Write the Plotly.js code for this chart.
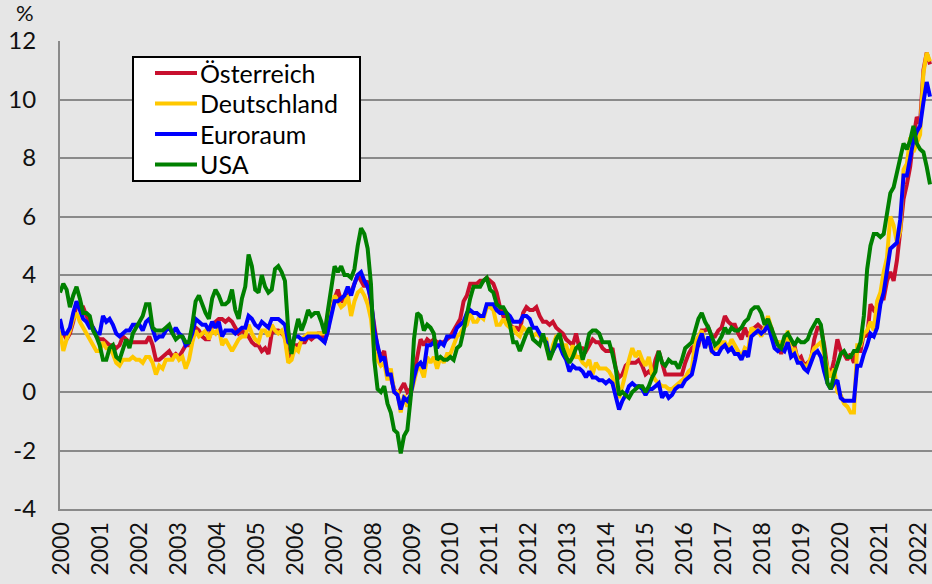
<!DOCTYPE html>
<html>
<head>
<meta charset="utf-8">
<script src="https://cdn.plot.ly/plotly-3.0.1.min.js"></script>
<style>
html,body{margin:0;padding:0;background:#e6e6e6;}
#chart{width:932px;height:584px;}
</style>
</head>
<body>
<div id="chart"></div>
<script>
// Monthly year-on-year inflation rates in %, first value = Dec 2000, last = Nov 2022
const SERIES_NAMES = ['Österreich', 'Deutschland', 'Euroraum', 'USA'];
const YEAR_LABELS = ['2000','2001','2002','2003','2004','2005','2006','2007','2008','2009','2010',
  '2011','2012','2013','2014','2015','2016','2017','2018','2019','2020','2021','2022'];
const Y_TICK_VALUES = [-4, -2, 0, 2, 4, 6, 8, 10, 12];
const Y_TICK_TEXT = ['-4', '-2', '0', '2', '4', '6', '8', '10', '12'];

const OESTERREICH = [
  2.0,
  2.0, 1.8, 2.0, 2.4, 3.0, 2.9, 2.9, 2.6, 2.4, 2.2, 1.9, 1.8,
  1.8, 1.7, 1.6, 1.6, 1.5, 1.6, 1.9, 1.8, 1.7, 1.7, 1.7, 1.7,
  1.7, 1.7, 1.9, 1.6, 1.1, 1.1, 1.2, 1.3, 1.4, 1.2, 1.3, 1.2,
  1.4, 1.6, 1.6, 1.9, 2.2, 2.1, 1.9, 1.8, 1.8, 2.3, 2.4, 2.5,
  2.5, 2.4, 2.5, 2.4, 2.2, 2.0, 2.1, 2.0, 1.9, 1.7, 1.6, 1.6,
  1.4, 1.5, 1.3, 2.0, 2.1, 2.1, 2.0, 1.9, 1.2, 1.3, 1.6, 1.6,
  1.7, 1.7, 1.9, 1.8, 1.9, 2.0, 2.0, 1.7, 2.1, 3.0, 3.2, 3.5,
  3.1, 3.1, 3.5, 3.4, 3.7, 4.0, 3.8, 3.6, 3.8, 3.0, 2.3, 1.5,
  1.2, 1.4, 0.6, 0.5, 0.1, -0.1, 0.1, 0.3, 0.0, 0.1, 0.6, 1.3,
  1.8, 1.6, 1.8, 1.7, 1.8, 1.7, 1.7, 1.7, 1.8, 1.9, 2.1, 2.3,
  2.5, 3.1, 3.3, 3.7, 3.7, 3.7, 3.8, 3.8, 3.9, 3.8, 3.7, 3.4,
  2.9, 2.6, 2.6, 2.3, 2.2, 2.2, 2.1, 2.7, 2.9, 2.8, 2.8, 2.9,
  2.6, 2.4, 2.4, 2.3, 2.4, 2.2, 2.1, 2.0, 1.8, 1.7, 1.6, 2.0,
  1.5, 1.5, 1.4, 1.6, 1.8, 1.7, 1.7, 1.5, 1.4, 1.4, 1.5, 0.8,
  0.5, 0.6, 0.9, 1.0, 1.0, 1.0, 1.1, 0.9, 0.6, 0.7, 0.6, 1.1,
  1.4, 1.0, 0.6, 0.6, 0.6, 0.6, 0.6, 0.6, 1.0, 1.3, 1.5, 1.6,
  1.6, 2.1, 2.1, 2.2, 1.9, 1.9, 2.1, 2.2, 2.6, 2.4, 2.3, 2.3,
  2.0, 1.8, 2.2, 1.9, 2.1, 2.2, 2.3, 2.2, 2.1, 2.3, 2.2, 1.7,
  1.7, 1.3, 1.7, 1.7, 1.7, 1.6, 1.1, 1.2, 0.9, 1.0, 1.1, 1.8,
  2.2, 2.2, 1.6, 0.8, 0.6, 1.1, 1.8, 1.4, 1.3, 1.1, 1.3, 1.0,
  1.4, 1.4, 2.0, 1.9, 3.0, 2.8, 2.9, 3.2, 3.2, 3.8, 4.1, 3.8,
  4.5, 5.5, 6.6, 7.1, 7.7, 8.7, 9.4, 9.2, 11.0, 11.6, 11.2
];

const DEUTSCHLAND = [
  2.1,
  1.4, 1.8, 2.1, 2.5, 2.7, 2.4, 2.2, 2.0, 1.8, 1.6, 1.4, 1.4,
  1.7, 1.5, 1.5, 1.3, 1.0, 0.9, 1.1, 1.1, 1.1, 1.2, 1.1, 1.1,
  1.0, 1.2, 1.2, 1.0, 0.6, 0.9, 0.8, 1.1, 1.1, 1.1, 1.3, 1.1,
  1.2, 0.8, 1.1, 1.7, 2.1, 1.9, 2.0, 2.1, 1.8, 2.1, 2.0, 2.2,
  1.6, 1.8, 1.6, 1.4, 1.6, 1.8, 1.9, 1.9, 2.3, 2.0, 1.8, 1.7,
  2.1, 2.1, 1.9, 2.3, 2.1, 2.0, 2.1, 1.8, 1.0, 1.1, 1.5, 1.4,
  1.8, 1.9, 2.0, 2.0, 2.0, 2.0, 2.0, 2.0, 2.7, 2.7, 3.3, 3.1,
  2.9, 3.0, 3.3, 2.6, 3.1, 3.4, 3.5, 3.3, 3.0, 2.5, 1.4, 1.1,
  0.9, 1.0, 0.4, 0.8, 0.0, 0.0, -0.7, -0.1, -0.5, -0.1, 0.3, 0.8,
  0.8, 0.5, 1.2, 1.0, 1.2, 0.8, 1.2, 1.0, 1.3, 1.3, 1.6, 1.9,
  2.0, 2.2, 2.3, 2.7, 2.4, 2.4, 2.6, 2.5, 2.9, 2.9, 2.8, 2.3,
  2.3, 2.5, 2.3, 2.2, 2.2, 2.0, 1.9, 2.2, 2.1, 2.1, 1.9, 2.0,
  1.9, 1.8, 1.8, 1.1, 1.6, 1.9, 1.9, 1.6, 1.6, 1.2, 1.6, 1.2,
  1.2, 1.0, 0.9, 1.1, 0.6, 1.0, 0.8, 0.8, 0.8, 0.7, 0.5, 0.1,
  -0.2, 0.2, 0.7, 1.1, 1.5, 1.2, 1.4, 1.1, 0.9, 1.2, 0.6, 0.4,
  0.3, 0.2, 0.2, 0.1, 0.1, 0.2, 0.3, 0.4, 0.5, 0.7, 0.8, 1.7,
  1.9, 2.1, 1.6, 1.8, 1.4, 1.5, 1.5, 1.7, 1.7, 1.5, 1.8, 1.6,
  1.4, 1.2, 1.5, 1.4, 2.2, 2.1, 2.1, 1.9, 2.2, 2.6, 2.2, 1.7,
  1.7, 1.7, 1.4, 2.1, 1.3, 1.5, 1.1, 1.0, 0.9, 0.9, 1.2, 1.5,
  1.6, 1.7, 1.3, 0.8, 0.5, 0.8, 0.0, -0.1, -0.4, -0.5, -0.7, -0.7,
  1.6, 1.6, 2.0, 2.1, 2.4, 2.1, 3.1, 3.4, 4.1, 4.6, 6.0, 5.7,
  5.1, 5.5, 7.6, 7.8, 8.7, 8.2, 8.5, 8.8, 10.9, 11.6, 11.3
];

const EURORAUM = [
  2.5,
  2.0, 2.0, 2.2, 2.7, 3.1, 2.8, 2.5, 2.4, 2.2, 2.2, 2.0, 2.0,
  2.6, 2.4, 2.5, 2.3, 2.0, 1.9, 2.0, 2.1, 2.1, 2.3, 2.3, 2.3,
  2.1, 2.4, 2.5, 2.1, 1.8, 1.9, 1.9, 2.1, 2.2, 2.0, 2.2, 2.0,
  1.9, 1.6, 1.7, 2.0, 2.5, 2.4, 2.3, 2.3, 2.1, 2.4, 2.2, 2.4,
  1.9, 2.1, 2.1, 2.1, 2.0, 2.1, 2.2, 2.2, 2.6, 2.5, 2.3, 2.2,
  2.4, 2.3, 2.2, 2.5, 2.5, 2.5, 2.4, 2.3, 1.7, 1.6, 1.9, 1.9,
  1.8, 1.8, 1.9, 1.9, 1.9, 1.9, 1.8, 1.7, 2.1, 2.6, 3.1, 3.1,
  3.2, 3.3, 3.6, 3.3, 3.7, 4.0, 4.1, 3.8, 3.6, 3.2, 2.1, 1.6,
  1.1, 1.2, 0.6, 0.6, 0.0, -0.1, -0.6, -0.2, -0.3, -0.1, 0.5, 0.9,
  1.0, 0.8, 1.6, 1.6, 1.7, 1.5, 1.7, 1.6, 1.9, 1.9, 1.9, 2.2,
  2.3, 2.4, 2.7, 2.8, 2.7, 2.7, 2.6, 2.6, 3.0, 3.0, 3.0, 2.8,
  2.7, 2.7, 2.7, 2.6, 2.4, 2.4, 2.4, 2.6, 2.6, 2.5, 2.2, 2.2,
  2.0, 1.8, 1.7, 1.2, 1.4, 1.6, 1.6, 1.3, 1.1, 0.7, 0.9, 0.8,
  0.8, 0.7, 0.5, 0.7, 0.5, 0.5, 0.4, 0.4, 0.3, 0.4, 0.3, -0.2,
  -0.6, -0.3, -0.1, 0.2, 0.3, 0.2, 0.2, 0.1, -0.1, 0.1, 0.1, 0.2,
  0.3, -0.2, 0.0, -0.2, -0.1, 0.1, 0.2, 0.2, 0.4, 0.5, 0.6, 1.1,
  1.7, 2.0, 1.5, 1.9, 1.4, 1.3, 1.3, 1.5, 1.6, 1.4, 1.5, 1.3,
  1.3, 1.1, 1.4, 1.2, 1.9, 2.0, 2.1, 2.0, 2.1, 2.3, 1.9, 1.5,
  1.4, 1.5, 1.4, 1.7, 1.2, 1.3, 1.0, 1.0, 0.8, 0.7, 1.0, 1.3,
  1.4, 1.2, 0.7, 0.3, 0.1, 0.3, 0.4, -0.2, -0.3, -0.3, -0.3, -0.3,
  0.9, 0.9, 1.3, 1.6, 2.0, 1.9, 2.2, 3.0, 3.4, 4.1, 4.9, 5.0,
  5.1, 5.9, 7.4, 7.4, 8.1, 8.6, 8.9, 9.1, 9.9, 10.6, 10.1
];

const USA = [
  3.4,
  3.7, 3.5, 2.9, 3.3, 3.6, 3.2, 2.7, 2.7, 2.6, 2.1, 1.9, 1.6,
  1.1, 1.1, 1.5, 1.6, 1.2, 1.1, 1.5, 1.8, 1.5, 2.0, 2.2, 2.4,
  2.6, 3.0, 3.0, 2.2, 2.1, 2.1, 2.1, 2.2, 2.3, 2.0, 1.8, 1.9,
  1.9, 1.7, 1.7, 2.3, 3.1, 3.3, 3.0, 2.7, 2.5, 3.2, 3.5, 3.3,
  3.0, 3.0, 3.1, 3.5, 2.8, 2.5, 3.2, 3.6, 4.7, 4.3, 3.5, 3.4,
  4.0, 3.6, 3.4, 3.5, 4.2, 4.3, 4.1, 3.8, 2.1, 1.3, 2.0, 2.5,
  2.1, 2.4, 2.8, 2.6, 2.7, 2.7, 2.4, 2.0, 2.8, 3.5, 4.3, 4.1,
  4.3, 4.0, 4.0, 3.9, 4.2, 5.0, 5.6, 5.4, 4.9, 3.7, 1.1, 0.1,
  0.0, 0.2, -0.4, -0.7, -1.3, -1.4, -2.1, -1.5, -1.3, -0.2, 1.8, 2.7,
  2.6, 2.1, 2.3, 2.2, 2.0, 1.1, 1.2, 1.1, 1.1, 1.2, 1.1, 1.5,
  1.6, 2.1, 2.7, 3.2, 3.6, 3.6, 3.6, 3.8, 3.9, 3.5, 3.4, 3.0,
  2.9, 2.9, 2.7, 2.3, 1.7, 1.7, 1.4, 1.7, 2.0, 2.2, 1.8, 1.7,
  1.6, 2.0, 1.5, 1.1, 1.4, 1.8, 2.0, 1.5, 1.2, 1.0, 1.2, 1.5,
  1.6, 1.1, 1.5, 2.0, 2.1, 2.1, 2.0, 1.7, 1.7, 1.7, 1.3, 0.8,
  -0.1, 0.0, -0.1, -0.2, 0.0, 0.1, 0.2, 0.2, 0.0, 0.2, 0.5, 0.7,
  1.4, 1.0, 0.9, 1.1, 1.0, 1.0, 0.8, 1.1, 1.5, 1.6, 1.7, 2.1,
  2.5, 2.7, 2.4, 2.2, 1.9, 1.6, 1.7, 1.9, 2.2, 2.0, 2.2, 2.1,
  2.1, 2.2, 2.4, 2.5, 2.8, 2.9, 2.9, 2.7, 2.3, 2.5, 2.2, 1.9,
  1.6, 1.5, 1.9, 2.0, 1.8, 1.6, 1.8, 1.7, 1.7, 1.8, 2.1, 2.3,
  2.5, 2.3, 1.5, 0.3, 0.1, 0.6, 1.0, 1.3, 1.4, 1.2, 1.2, 1.4,
  1.4, 1.7, 2.6, 4.2, 5.0, 5.4, 5.4, 5.3, 5.4, 6.2, 6.8, 7.0,
  7.5, 7.9, 8.5, 8.3, 8.6, 9.1, 8.5, 8.3, 8.2, 7.7, 7.1
];

const COLORS = ['#C8102E', '#FFC800', '#0000FF', '#008000'];

// ---- layout constants (pixels) ----
const W = 932, H = 584;
const M = {l: 60, r: 0, t: 41, b: 75};
const PLOT_W = W - M.l - M.r, PLOT_H = H - M.t - M.b;
const X_RANGE = [0, 263.6];
const LABEL_STEP = 11.775, LABEL_SHIFT = 0.45;   // year label spacing on the month axis
const GRID = '#8a8a8a';
const FONT = 'Lato, "Open Sans", sans-serif';

const px = x => (x - M.l) / PLOT_W;
const py = y => (H - M.b - y) / PLOT_H;

const allSeries = [OESTERREICH, DEUTSCHLAND, EURORAUM, USA];
const traces = allSeries.map((vals, i) => ({
  type: 'scatter',
  mode: 'lines',
  name: SERIES_NAMES[i],
  x: vals.map((_, k) => k),
  y: vals,
  line: {color: COLORS[i], width: 4},
  showlegend: false,
  hoverinfo: 'skip'
}));

// custom legend box (matches the boxed legend of the reference)
const LEG = {x0: 133, x1: 360, y0: 57, y1: 181, lineX0: 155, lineX1: 197, textX: 198,
             rows: [73, 103.5, 134, 164.5]};
const shapes = [{
  type: 'rect', xref: 'paper', yref: 'paper',
  x0: px(LEG.x0), x1: px(LEG.x1), y0: py(LEG.y1), y1: py(LEG.y0),
  line: {color: '#000', width: 2}, fillcolor: '#ffffff', layer: 'above'
}];
const annotations = [{
  xref: 'paper', yref: 'paper', x: px(25), y: py(13), text: '%',
  showarrow: false, xanchor: 'center', yanchor: 'middle',
  font: {family: FONT, size: 22, color: '#111'}
}];
SERIES_NAMES.forEach((name, i) => {
  shapes.push({
    type: 'line', xref: 'paper', yref: 'paper',
    x0: px(LEG.lineX0), x1: px(LEG.lineX1), y0: py(LEG.rows[i]), y1: py(LEG.rows[i]),
    line: {color: COLORS[i], width: 4}, layer: 'above'
  });
  annotations.push({
    xref: 'paper', yref: 'paper', x: px(LEG.textX), y: py(LEG.rows[i]),
    text: name, showarrow: false, xanchor: 'left', yanchor: 'middle',
    font: {family: FONT, size: 25, color: '#000'}
  });
});

const layout = {
  width: W, height: H,
  margin: {l: M.l, r: M.r, t: M.t, b: M.b, pad: 0},
  paper_bgcolor: '#e6e6e6',
  plot_bgcolor: '#e6e6e6',
  font: {family: FONT, size: 24, color: '#111'},
  showlegend: false,
  xaxis: {
    type: 'linear',
    range: X_RANGE,
    tickmode: 'array',
    tickvals: YEAR_LABELS.map((_, k) => LABEL_SHIFT + k * LABEL_STEP),
    ticktext: YEAR_LABELS,
    tickangle: -90,
    ticks: '',
    showgrid: false,
    zeroline: false,
    showline: true, linecolor: GRID, linewidth: 2,
    ticklabelstandoff: 2,
    tickfont: {family: FONT, size: 23, color: '#111'}
  },
  yaxis: {
    range: [-4, 12],
    tickmode: 'array',
    tickvals: Y_TICK_VALUES,
    ticktext: Y_TICK_TEXT,
    ticks: '',
    showgrid: true, gridcolor: GRID, gridwidth: 2,
    zeroline: false,
    showline: true, linecolor: GRID, linewidth: 2,
    ticklabelstandoff: 17,
    tickfont: {family: FONT, size: 24, color: '#111'}
  },
  shapes: shapes,
  annotations: annotations
};

Plotly.newPlot('chart', traces, layout, {staticPlot: true, displayModeBar: false});
</script>
</body>
</html>
